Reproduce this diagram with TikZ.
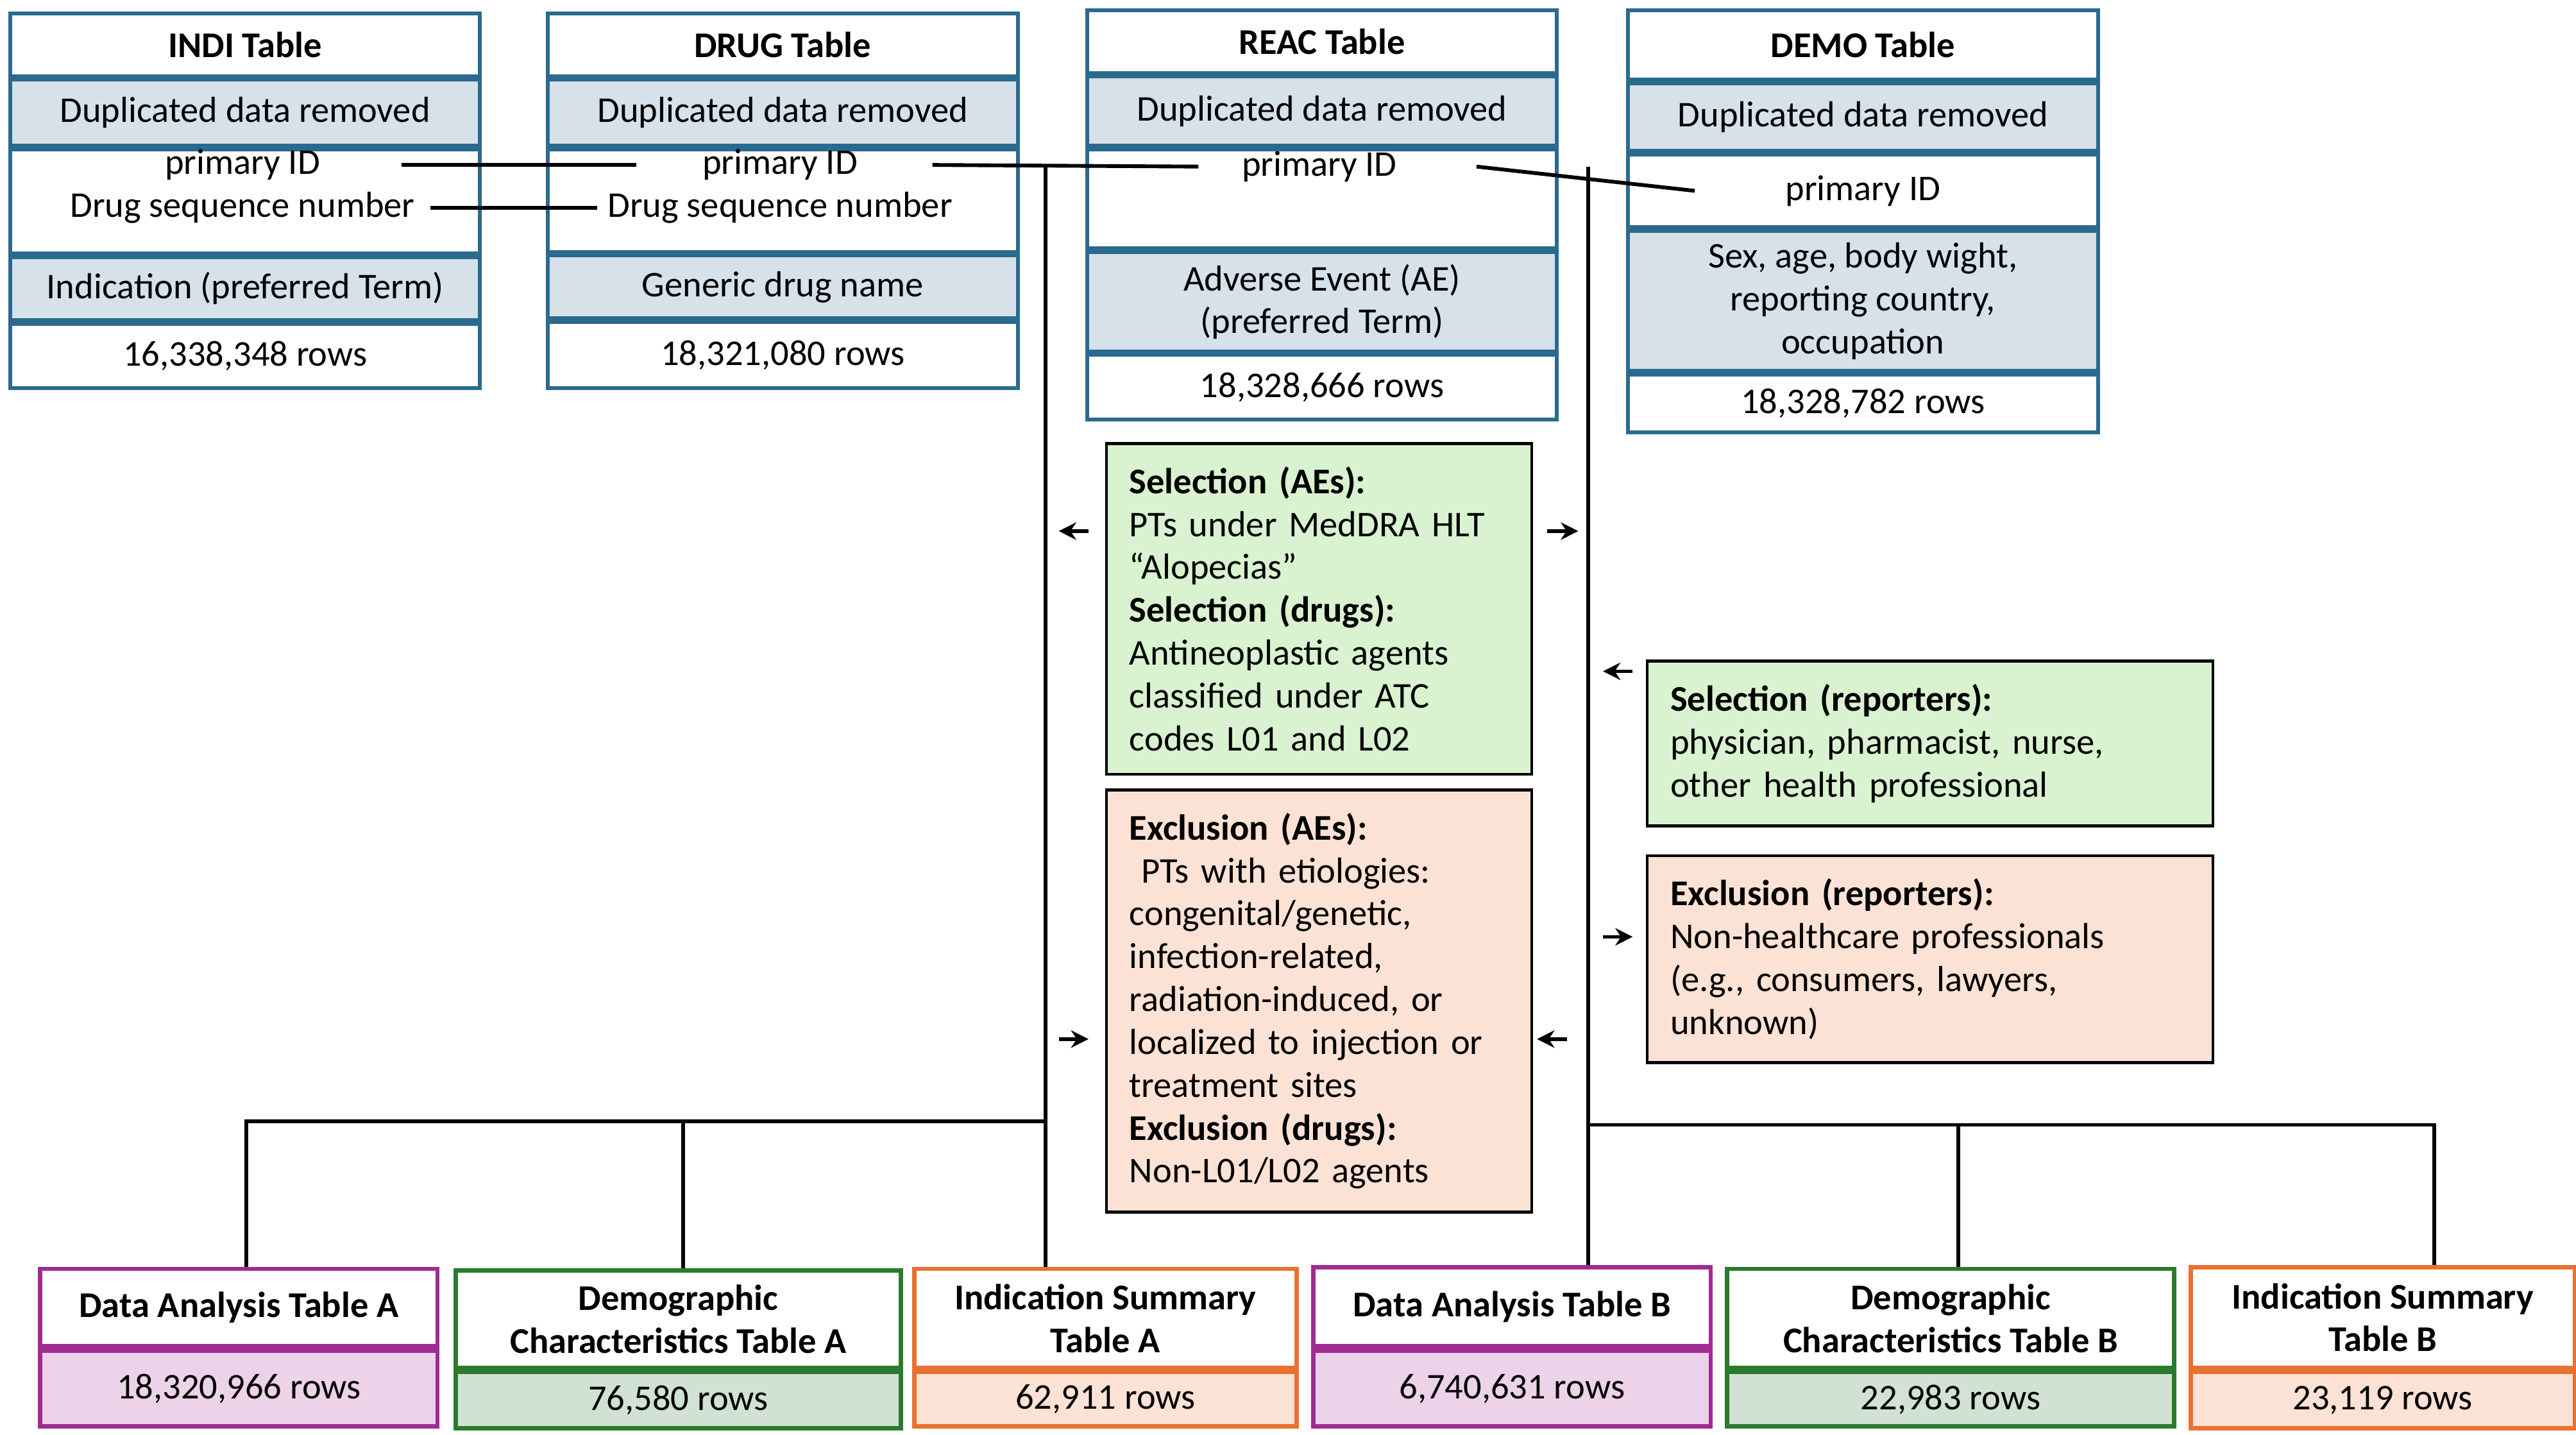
\documentclass[tikz,border=0pt]{standalone}
\usepackage{fontspec}
\setmainfont{Carlito}
\usetikzlibrary{positioning,arrows.meta}
\definecolor{tblue}{HTML}{2A6A8E}
\definecolor{tfill}{HTML}{D6E1EA}
\definecolor{selfill}{HTML}{D9F2D0}
\definecolor{excfill}{HTML}{FBE2D5}
\definecolor{purp}{HTML}{A02B93}
\definecolor{purpfill}{HTML}{EDD3E9}
\definecolor{grn}{HTML}{2B7A2E}
\definecolor{grnfill}{HTML}{D1E2D4}
\definecolor{orng}{HTML}{E97132}
\newcommand{\txt}{\fontsize{12.5}{14.8}\selectfont}
\tikzset{
  cell/.style={draw=tblue,line width=1.3pt,minimum width=5.7cm,inner sep=0pt,align=center,font=\txt},
  head/.style={cell,font=\txt\bfseries},
  shade/.style={cell,fill=tfill},
  word/.style={inner sep=0pt,font=\txt},
  crit/.style={draw=black,line width=1pt,anchor=north west,inner sep=0.28cm,align=left,font=\txt},
  sel/.style={crit,fill=selfill},
  exc/.style={crit,fill=excfill},
  res/.style={line width=1.5pt,anchor=north west,inner sep=0pt,align=center,font=\txt\bfseries},
  resrow/.style={line width=1.5pt,inner sep=0pt,align=center,font=\txt},
  link/.style={line width=1.3pt},
  stub/.style={line width=1.2pt,-{Stealth[length=6pt,width=6pt]}}
}
\begin{document}
\begin{tikzpicture}[x=0.02cm,y=-0.02cm,node distance=0pt]
\useasboundingbox (0,0) rectangle (1562,870);
% source tables
\node[head,anchor=north west,minimum height=0.76cm] (indiH) at (5,7) {INDI Table};
\node[shade,minimum height=0.8cm,below=of indiH] (indiDup) {Duplicated data removed};
\node[cell,minimum height=1.26cm,below=of indiDup] (indiKey) {};
\node[shade,minimum height=0.76cm,below=of indiKey] (indiInd) {Indication (preferred Term)};
\node[cell,minimum height=0.78cm,below=of indiInd] (indiRows) {16,338,348 rows};
\node[word] (indiPid) at (147,100) {primary ID};
\node[word] (indiSeq) at (147,126) {Drug sequence number};

\node[head,anchor=north west,minimum height=0.76cm] (drugH) at (331,7) {DRUG Table};
\node[shade,minimum height=0.8cm,below=of drugH] (drugDup) {Duplicated data removed};
\node[cell,minimum height=1.24cm,below=of drugDup] (drugKey) {};
\node[shade,minimum height=0.76cm,below=of drugKey] (drugName) {Generic drug name};
\node[cell,minimum height=0.8cm,below=of drugName] (drugRows) {18,321,080 rows};
\node[word] (drugPid) at (473,100) {primary ID};
\node[word] (drugSeq) at (473,126) {Drug sequence number};

\node[head,anchor=north west,minimum height=0.76cm] (reacH) at (658,5) {REAC Table};
\node[shade,minimum height=0.84cm,below=of reacH] (reacDup) {Duplicated data removed};
\node[cell,minimum height=1.2cm,below=of reacDup] (reacKey) {};
\node[shade,minimum height=1.2cm,below=of reacKey] (reacAE) {Adverse Event (AE)\\(preferred Term)};
\node[cell,minimum height=0.78cm,below=of reacAE] (reacRows) {18,328,666 rows};
\node[word] (reacPid) at (800,101) {primary ID};

\node[head,anchor=north west,minimum height=0.84cm] (demoH) at (986,5) {DEMO Table};
\node[shade,minimum height=0.82cm,below=of demoH] (demoDup) {Duplicated data removed};
\node[cell,minimum height=0.88cm,below=of demoDup] (demoKey) {primary ID};
\node[shade,minimum height=1.7cm,below=of demoKey] (demoInfo) {Sex, age, body wight,\\reporting country,\\occupation};
\node[cell,minimum height=0.7cm,below=of demoInfo] (demoRows) {18,328,782 rows};
% key links
\coordinate (jL) at (634,100);
\coordinate (jR) at (963,101);
\draw[link] ([xshift=0.98cm]indiPid.east) -- ([xshift=-0.8cm]drugPid.west);
\draw[link] ([xshift=0.18cm]indiSeq.east) -- ([xshift=-0.12cm]drugSeq.west);
\draw[link] ([xshift=0.9cm]drugPid.east) -- ([xshift=-0.52cm]reacPid.west);
\draw[link] ([xshift=0.96cm]reacPid.east) -- ([xshift=-2.04cm]demoKey.center);
% criteria
\node[sel,minimum width=5.16cm,minimum height=3.96cm,text width=4.6cm] (selAE) at (670,268)
  {\textbf{Selection (AEs):}\\PTs under MedDRA HLT\\“Alopecias”\\\textbf{Selection (drugs):}\\Antineoplastic agents\\classified under ATC\\codes L01 and L02};
\node[exc,minimum width=5.16cm,minimum height=5.04cm,text width=4.6cm] (excAE) at (670,478)
  {\textbf{Exclusion (AEs):}\\\ PTs with etiologies:\\congenital/genetic,\\infection-related,\\radiation-induced, or\\localized to injection or\\treatment sites\\\textbf{Exclusion (drugs):}\\Non-L01/L02 agents};
\node[sel,minimum width=6.86cm,minimum height=1.84cm,text width=6.3cm] (selRep) at (998,400)
  {\textbf{Selection (reporters):}\\physician, pharmacist, nurse,\\other health professional};
\node[exc,minimum width=6.86cm,minimum height=2.38cm,text width=6.3cm] (excRep) at (998,518)
  {\textbf{Exclusion (reporters):}\\Non-healthcare professionals\\(e.g., consumers, lawyers,\\unknown)};
\coordinate (a1) at (642,322);
\coordinate (a2) at (957,322);
\coordinate (a3) at (660,630);
\coordinate (a4) at (932,630);
\coordinate (a5) at (972,407);
\coordinate (a6) at (990,568);
\draw[stub] (660,322) -- (a1);
\draw[stub] (938,322) -- (a2);
\draw[stub] (642,630) -- (a3);
\draw[stub] (950,630) -- (a4);
\draw[stub] (990,407) -- (a5);
\draw[stub] (972,568) -- (a6);
% result tables
\node[res,draw=purp,minimum width=4.82cm,minimum height=0.94cm] (daAH) at (23,768) {Data Analysis Table A};
\node[resrow,draw=purp,fill=purpfill,minimum width=4.82cm,minimum height=0.92cm,below=of daAH] (daArows) {18,320,966 rows};
\node[res,draw=grn,minimum width=5.4cm,minimum height=1.18cm] (dmAH) at (275,769) {Demographic\\Characteristics Table A};
\node[resrow,draw=grn,fill=grnfill,minimum width=5.4cm,minimum height=0.68cm,below=of dmAH] (dmArows) {76,580 rows};
\node[res,draw=orng,minimum width=4.64cm,minimum height=1.2cm] (inAH) at (553,768) {Indication Summary\\Table A};
\node[resrow,draw=orng,fill=excfill,minimum width=4.64cm,minimum height=0.66cm,below=of inAH] (inArows) {62,911 rows};
\node[res,draw=purp,minimum width=4.82cm,minimum height=0.96cm] (daBH) at (795,767) {Data Analysis Table B};
\node[resrow,draw=purp,fill=purpfill,minimum width=4.82cm,minimum height=0.92cm,below=of daBH] (daBrows) {6,740,631 rows};
\node[res,draw=grn,minimum width=5.42cm,minimum height=1.2cm] (dmBH) at (1046,768) {Demographic\\Characteristics Table B};
\node[resrow,draw=grn,fill=grnfill,minimum width=5.42cm,minimum height=0.66cm,below=of dmBH] (dmBrows) {22,983 rows};
\node[res,draw=orng,minimum width=4.66cm,minimum height=1.22cm] (inBH) at (1327,767) {Indication Summary\\Table B};
\node[resrow,draw=orng,fill=excfill,minimum width=4.66cm,minimum height=0.68cm,below=of inBH] (inBrows) {23,119 rows};
% buses
\coordinate (busL) at (634,680);
\coordinate (busR) at (963,682);
\coordinate (busRend) at (1476,682);
\draw[link] (jL) -- (jL |- inAH.north);
\draw[link] (jR) -- (jR |- daBH.north);
\draw[link] ([xshift=0.09cm]daAH.north) |- (busL);
\draw[link] ([xshift=0.06cm]dmAH.north) -- ([xshift=0.06cm]dmAH.north |- busL);
\draw[link] (busR) -- (busRend) -- (busRend |- inBH.north);
\draw[link] ([xshift=0.09cm]dmBH.north) -- ([xshift=0.09cm]dmBH.north |- busR);
\end{tikzpicture}
\end{document}
